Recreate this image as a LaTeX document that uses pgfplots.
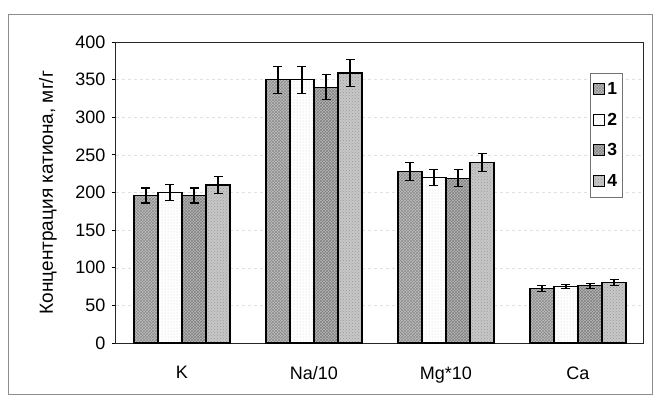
\documentclass[border=0pt]{standalone}
\usepackage{fontspec}
\setmainfont{Liberation Sans}
\usepackage{pgfplots}
\usepackage{pgfplotstable}
\pgfplotsset{compat=1.18}
\usetikzlibrary{patterns}

\pgfplotstableread{
x y1 e1 y2 e2 y3 e3 y4 e4
0 196 10 200 11 196 10 210 11
1 350 18 350 18 340 17 359 18
2 228 12 220 11 219 11 240 12
3 72 4 75 3 76 3 80 4
}\data

\begin{document}
\begin{tikzpicture}[x=1pt,y=1pt]
\path (0,0) rectangle (657,397);
\draw[black!45, line width=0.8pt] (8,3) rectangle (652,383);
\begin{axis}[
  at={(116pt,54pt)}, anchor=south west,
  scale only axis, width=528pt, height=301pt,
  xmin=-0.5, xmax=3.5, ymin=0, ymax=400,
  ybar=0pt, bar width=0.182,
  ytick={0,50,...,400},
  xtick={0,1,2,3}, xticklabels={K, Na/10, Mg*10, Ca},
  xtick style={draw=none},
  ytick pos=left, tick align=outside, major tick length=4pt,
  ytick style={line width=0.8pt, black},
  axis line style={line width=1pt, black!85},
  ymajorgrids, grid style={black!12, dashed, line width=0.5pt},
  /pgf/number format/assume math mode=true,
  ticklabel style={font=\fontsize{18}{20}\selectfont},
  xticklabel style={yshift=-16pt},
  yticklabel style={xshift=-3pt},
  ylabel={Концентрация катиона, мг/г},
  ylabel style={font=\fontsize{19}{21}\selectfont, at={(axis description cs:-0.129,0.5)}, anchor=center},
  legend style={at={(0.898,0.897)}, anchor=north west, draw=black!55, line width=0.6pt,
    font=\bfseries\fontsize{17.5}{19}\selectfont, row sep=13pt, inner xsep=3pt, inner ysep=7pt,
    /tikz/every even column/.append style={column sep=3pt}},
  legend cell align=left,
  legend image code/.code={\draw[#1, line width=1pt] (0pt,-5.5pt) rectangle (11pt,5.5pt);},
  every axis plot/.append style={draw=black, line width=1.3pt,
    error bars/y dir=both, error bars/y explicit,
    error bars/error bar style={line width=1.1pt, black},
    error bars/error mark options={rotate=90, mark size=4.5pt, line width=1.1pt, black}},
]
\addplot[fill=black!25, postaction={pattern=crosshatch, pattern color=black!45}] table[x=x, y=y1, y error=e1] {\data};
\addplot[fill=white, postaction={pattern=dots, pattern color=black!20}] table[x=x, y=y2, y error=e2] {\data};
\addplot[fill=black!28, postaction={pattern=crosshatch, pattern color=black!50}] table[x=x, y=y3, y error=e3] {\data};
\addplot[fill=black!22, postaction={pattern=crosshatch dots, pattern color=black!40}] table[x=x, y=y4, y error=e4] {\data};
\legend{1,2,3,4}
\end{axis}
\end{tikzpicture}
\end{document}
